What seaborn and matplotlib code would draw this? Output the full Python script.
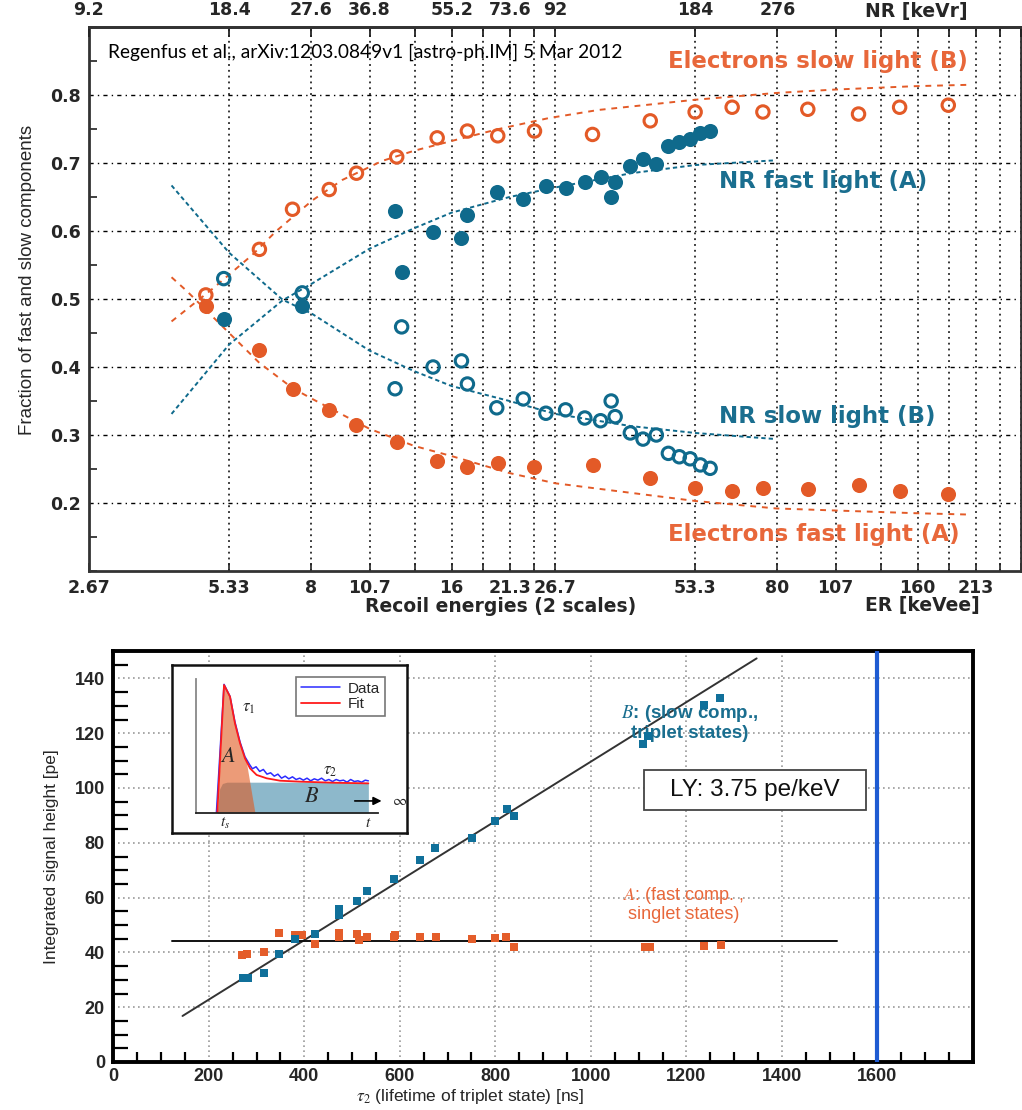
import matplotlib
matplotlib.use("Agg")
import matplotlib.pyplot as plt
import seaborn as sns
import pandas as pd
from matplotlib.ticker import FixedLocator, NullLocator, MultipleLocator
from matplotlib.patches import Rectangle

# ---------------- colours ----------------
ORANGE = "#E35A27"
BLUE = "#0F6A8C"
ORANGE_TXT = "#E8673A"
BLUE_TXT = "#1A6E8F"
SQ_BLUE = "#10709A"
SQ_ORANGE = "#E45D2A"

# ---------------- top panel data (x = ER in keVee) ----------------
e_er = [4.75, 6.19, 7.29, 8.74, 10.0, 12.2, 14.9, 17.3, 20.1, 24.1, 32.1, 42.7,
        53.3, 64.0, 74.5, 93.0, 119.5, 146.4, 186.2]
e_slow_y = [0.506, 0.573, 0.632, 0.661, 0.685, 0.709, 0.737, 0.747, 0.740, 0.747,
            0.742, 0.762, 0.775, 0.782, 0.775, 0.779, 0.772, 0.782, 0.785]
e_fast_y = [0.490, 0.425, 0.368, 0.337, 0.315, 0.290, 0.262, 0.253, 0.259, 0.253,
            0.256, 0.237, 0.222, 0.217, 0.222, 0.220, 0.226, 0.217, 0.213]

nr_er = [5.19, 7.65, 12.5, 12.1, 14.6, 16.8, 17.3, 20.0, 22.8, 25.5, 28.1, 30.9,
         33.4, 35.2, 35.9, 38.7, 41.2, 44.0, 46.7, 49.3, 52.0, 54.7, 57.4]
nr_slow_y = [0.530, 0.509, 0.459, 0.368, 0.400, 0.409, 0.375, 0.340, 0.353, 0.332,
             0.337, 0.325, 0.321, 0.350, 0.327, 0.303, 0.294, 0.300, 0.273, 0.268,
             0.265, 0.256, 0.251]
nr_fast_y = [0.471, 0.490, 0.539, 0.630, 0.598, 0.589, 0.623, 0.658, 0.647, 0.666,
             0.663, 0.672, 0.679, 0.650, 0.672, 0.695, 0.706, 0.698, 0.725, 0.731,
             0.735, 0.744, 0.747]

# fit curves
e_slow_fit_er = [4.01, 4.91, 5.98, 6.73, 8.04, 9.32, 11.35, 13.29, 16.34, 20.2,
                 25.84, 33.05, 53.3, 79.5, 106.3, 158.3, 206.6]
e_slow_fit_y = [0.467, 0.515, 0.565, 0.600, 0.645, 0.675, 0.703, 0.718, 0.734,
                0.750, 0.766, 0.778, 0.793, 0.803, 0.808, 0.813, 0.815]
e_fast_fit_er = [4.01, 4.32, 5.33, 6.19, 7.29, 8.04, 10.67, 13.29, 16.0, 21.3,
                 26.7, 53.3, 79.5, 106.3, 158.3, 206.6]
e_fast_fit_y = [0.532, 0.512, 0.450, 0.406, 0.369, 0.353, 0.309, 0.284, 0.269,
                0.244, 0.229, 0.203, 0.192, 0.189, 0.185, 0.183]
nr_fit_er = [4.01, 5.33, 6.94, 8.04, 10.67, 13.29, 16.0, 21.3, 26.7, 38.9, 53.3, 79.5]
nr_fast_fit_y = [0.331, 0.433, 0.498, 0.523, 0.574, 0.604, 0.627, 0.650, 0.664,
                 0.685, 0.697, 0.704]
nr_slow_fit_y = [0.667, 0.568, 0.499, 0.478, 0.424, 0.394, 0.372, 0.350, 0.331,
                 0.313, 0.303, 0.294]

er_range = (2.667, 266.7)
er_ticks = [2.667, 5.333, 8.0, 10.67, 13.33, 16.0, 18.67, 21.33, 24.0, 26.67,
            53.33, 80.0, 106.7, 133.3, 160.0, 186.7, 213.3, 240.0, 266.7]
er_labels = ["2.67", "5.33", "8", "10.7", "", "16", "", "21.3", "", "26.7",
             "53.3", "80", "107", "", "160", "", "213", "", ""]
nr_labels = ["9.2", "18.4", "27.6", "36.8", "", "55.2", "", "73.6", "", "92",
             "184", "276", "", "", "", "", "", "", ""]
frac_ticks = [0.2, 0.3, 0.4, 0.5, 0.6, 0.7, 0.8]
frac_labels = ["0.2", "0.3", "0.4", "0.5", "0.6", "0.7", "0.8"]

# ---------------- bottom panel data ----------------
b_ns = [272, 282, 315, 346, 381, 423, 472, 472, 510, 531, 588, 642, 674, 751,
        799, 824, 839, 1109, 1120, 1237, 1271]
b_pe = [30.6, 30.6, 32.4, 39.4, 44.9, 46.8, 55.8, 53.8, 58.6, 62.5, 66.8, 73.6,
        78.1, 81.8, 87.9, 92.4, 89.7, 116.2, 118.9, 130.3, 133.0]
a_ns = [270, 281, 315, 346, 381, 395, 423, 472, 472, 510, 514, 531, 588, 589,
        643, 676, 751, 799, 823, 839, 1113, 1123, 1236, 1272]
a_pe = [39.0, 39.4, 40.1, 47.0, 46.4, 46.4, 43.1, 47.0, 45.5, 46.8, 44.4, 45.6,
        45.6, 46.4, 45.6, 45.6, 44.9, 45.2, 45.6, 41.9, 42.0, 42.0, 42.4, 42.8]
b_fit_ns = [145, 1347]
b_fit_pe = [16.8, 147.3]
a_fit_ns = [123, 1515]
a_fit_pe = [44.3, 44.3]
threshold_ns = 1600

# ---------------- inset (schematic pulse) data ----------------
pulse_fit_x = [1.17, 1.54, 1.87, 2.14, 2.42, 2.69, 2.97, 3.33, 3.88, 4.62, 5.71, 7.55, 9.47]
pulse_fit_y = [0.0, 0.955, 0.868, 0.669, 0.520, 0.408, 0.333, 0.284, 0.259, 0.241,
               0.234, 0.226, 0.221]
pulse_data_x = [1.12, 1.54, 1.87, 2.14, 2.42, 2.69, 2.95,
                3.10, 3.30, 3.50, 3.70, 3.90, 4.10, 4.30, 4.50, 4.70, 4.90,
                5.10, 5.30, 5.50, 5.70, 5.90, 6.10, 6.30, 6.50, 6.70, 6.90,
                7.10, 7.30, 7.50, 7.70, 7.90, 8.10, 8.30, 8.50, 8.70, 8.90,
                9.10, 9.30, 9.47]
pulse_data_y = [0.0, 0.96, 0.87, 0.68, 0.53, 0.42, 0.36,
                0.33, 0.345, 0.31, 0.325, 0.29, 0.30, 0.275, 0.29, 0.26, 0.275,
                0.255, 0.27, 0.25, 0.26, 0.245, 0.26, 0.24, 0.255, 0.245, 0.26,
                0.24, 0.25, 0.235, 0.25, 0.24, 0.245, 0.23, 0.25, 0.235, 0.24,
                0.23, 0.245, 0.24]
b_region_x = [1.17, 1.30, 1.45, 1.70, 9.47]
b_region_y = [0.0, 0.18, 0.22, 0.23, 0.23]
a_region_x = [1.17, 1.54, 1.87, 2.14, 2.42, 2.69, 2.78, 3.24]
a_region_y = [0.0, 0.955, 0.868, 0.669, 0.520, 0.408, 0.37, 0.0]
inset_xticks = [1.59, 5.71, 9.45]
inset_xlabels = ["$t_s$", "", "$t$"]

# ---------------- style ----------------
sns.set_theme(style="white")
plt.rcParams["font.family"] = ["Liberation Sans", "DejaVu Sans"]
plt.rcParams["mathtext.fontset"] = "stix"
W, H = 1022, 1110
fig = plt.figure(figsize=(W / 100, H / 100), dpi=100)

def fx(px):
    return px / W

def fy(py):
    return 1 - py / H

# ======================= TOP PANEL =======================
ax = fig.add_axes([fx(89), fy(571), fx(1021 - 89), (571 - 27) / H])
ax.set_xscale("log")

dash_o = (0, (3, 3))
dash_b = (0, (2.2, 1.6))
sns.lineplot(x=e_slow_fit_er, y=e_slow_fit_y, ax=ax, color=ORANGE, lw=1.4,
             linestyle=dash_o, estimator=None, sort=False, zorder=2)
sns.lineplot(x=e_fast_fit_er, y=e_fast_fit_y, ax=ax, color=ORANGE, lw=1.4,
             linestyle=dash_o, estimator=None, sort=False, zorder=2)
sns.lineplot(x=nr_fit_er, y=nr_fast_fit_y, ax=ax, color=BLUE, lw=1.4,
             linestyle=dash_b, estimator=None, sort=False, zorder=2)
sns.lineplot(x=nr_fit_er, y=nr_slow_fit_y, ax=ax, color=BLUE, lw=1.4,
             linestyle=dash_b, estimator=None, sort=False, zorder=2)

sns.scatterplot(x=e_er, y=e_slow_y, ax=ax, marker="o", s=80, facecolor="none",
                edgecolor=ORANGE, linewidth=2.2, zorder=4)
sns.scatterplot(x=e_er, y=e_fast_y, ax=ax, marker="o", s=118, color=ORANGE,
                linewidth=0, zorder=4)
sns.scatterplot(x=nr_er, y=nr_slow_y, ax=ax, marker="o", s=80, facecolor="none",
                edgecolor=BLUE, linewidth=2.2, zorder=4)
sns.scatterplot(x=nr_er, y=nr_fast_y, ax=ax, marker="o", s=118, color=BLUE,
                linewidth=0, zorder=4)

ax.set_xlim(*er_range)
ax.set_ylim(0.1, 0.9)
ax.set_axisbelow(True)
bold13 = dict(fontsize=12.5, fontweight="bold", fontfamily="DejaVu Sans")
ax.set_xticks(er_ticks, labels=er_labels, **bold13)
ax.xaxis.set_minor_locator(NullLocator())
ax.set_yticks(frac_ticks, labels=frac_labels, **bold13)
ax.yaxis.set_minor_locator(MultipleLocator(0.05))
ax.tick_params(axis="x", which="major", direction="in", length=6, width=1.2,
               pad=6, color="#222")
ax.tick_params(axis="y", which="major", direction="in", length=8, width=1.5,
               pad=6, color="#333")
ax.tick_params(axis="y", which="minor", direction="in", length=6, width=1.3,
               color="#333", left=True)
ax.grid(True, axis="x", which="major", color="black", linestyle=(0, (1.2, 2.6)), lw=1.1)
ax.grid(True, axis="y", which="major", color="black", linestyle=(0, (3, 3, 1, 3)), lw=1.0)
for s in ax.spines.values():
    s.set_color("#333333")
    s.set_linewidth(2)

ax_t = ax.twiny()
ax_t.set_xscale("log")
ax_t.set_xlim(*er_range)
ax_t.set_xticks(er_ticks, labels=nr_labels, **bold13)
ax_t.xaxis.set_minor_locator(NullLocator())
ax_t.tick_params(axis="x", direction="in", length=7, width=1.3, pad=6, color="#222")
for k, s in ax_t.spines.items():
    s.set_visible(k == "top")
    s.set_color("#333333")
    s.set_linewidth(2)

ax.set_xlabel("Recoil energies (2 scales)", fontsize=13.5, fontweight="bold",
              fontfamily="DejaVu Sans")
ax.xaxis.set_label_coords((501 - 89) / 932, (571 - 597) / 544)
ax.set_ylabel("Fraction of fast and slow components", fontsize=13.5)
ax.yaxis.set_label_coords(-0.057, 0.535)
ax.text((922 - 89) / 932, (571 - 606) / 544, "ER [keVee]", transform=ax.transAxes,
        ha="center", va="center", **{**bold13, "fontsize": 13.5})
ax.text((916 - 89) / 932, (571 - 12) / 544, "NR [keVr]", transform=ax.transAxes,
        ha="center", va="center", **{**bold13, "fontsize": 13.5})

ax.text(0.0204, 0.954, "Regenfus et al., arXiv:1203.0849v1 [astro-ph.IM] 5 Mar 2012",
        transform=ax.transAxes, fontsize=13.8, fontfamily="Lato", color="black",
        ha="left", va="center", zorder=6)
lab_kw = dict(transform=ax.transAxes, ha="left", va="center", fontsize=16.5,
              fontweight="bold", fontfamily="DejaVu Sans", zorder=6)
ax.text(0.6217, 0.9357, "Electrons slow light (B)", color=ORANGE_TXT, **lab_kw)
ax.text(0.6763, 0.7151, "NR fast light (A)", color=BLUE_TXT, **lab_kw)
ax.text(0.6763, 0.2849, "NR slow light (B)", color=BLUE_TXT, **lab_kw)
ax.text(0.6217, 0.0662, "Electrons fast light (A)", color=ORANGE_TXT, **lab_kw)

# ======================= BOTTOM PANEL =======================
ax2 = fig.add_axes([fx(113.25), fy(1062), fx(973 - 113.25), (1062 - 651) / H])
sns.lineplot(x=b_fit_ns, y=b_fit_pe, ax=ax2, color="#333333", lw=1.4,
             estimator=None, sort=False, zorder=3)
sns.lineplot(x=a_fit_ns, y=a_fit_pe, ax=ax2, color="#111111", lw=1.4,
             estimator=None, sort=False, zorder=3)
sns.scatterplot(x=a_ns, y=a_pe, ax=ax2, marker="s", s=38, color=SQ_ORANGE,
                linewidth=0, zorder=4)
sns.scatterplot(x=b_ns, y=b_pe, ax=ax2, marker="s", s=38, color=SQ_BLUE,
                linewidth=0, zorder=4)
ax2.axvline(threshold_ns, color="#1E5BD2", lw=3, zorder=5)

ax2.set_xlim(0, 1800)
ax2.set_ylim(0, 150)
ax2.set_axisbelow(True)
boldL = dict(fontsize=13, fontweight="bold")
ax2.set_xticks(list(range(0, 1601, 200)), labels=[str(v) for v in range(0, 1601, 200)], **boldL)
ax2.set_yticks(list(range(0, 141, 20)), labels=[str(v) for v in range(0, 141, 20)], **boldL)
ax2.xaxis.set_minor_locator(MultipleLocator(50))
ax2.yaxis.set_minor_locator(MultipleLocator(5))
ax2.tick_params(axis="x", which="major", direction="in", length=12, width=2, pad=4,
                color="black", top=False)
ax2.tick_params(axis="x", which="minor", direction="in", length=7, width=1.6,
                color="black", bottom=True)
ax2.tick_params(axis="y", which="major", direction="in", length=20, width=2, pad=6,
                color="black")
ax2.tick_params(axis="y", which="minor", direction="in", length=11, width=1.6,
                color="black", left=True)
ax2.grid(True, which="major", color="#9a9a9a", linestyle=(0, (1, 2)), lw=1.2)
for s in ax2.spines.values():
    s.set_color("black")
    s.set_linewidth(2.8)
ax2.set_ylabel("Integrated signal height [pe]", fontsize=12.5)
ax2.yaxis.set_label_coords(-0.063, 0.5)
ax2.set_xlabel(r"$\tau_2$ (lifetime of triplet state) [ns]", fontsize=12.5)
ax2.xaxis.set_label_coords(0.415, -0.062)

ax2.text(1207, 124, "$B$: (slow comp.,\ntriplet states)", color=BLUE_TXT,
         fontsize=13.5, fontweight="bold", ha="center", va="center", linespacing=1.05)
ax2.text(1194, 57.8, "$A$: (fast comp. ,\nsinglet states)", color=ORANGE_TXT,
         fontsize=13, ha="center", va="center", linespacing=1.0)
ly_box = Rectangle((1110.7, 92.1), 465.8, 14.3, facecolor="white",
                   edgecolor="#444444", lw=1.3, zorder=6)
ax2.add_patch(ly_box)
ax2.text(1343, 99.3, "LY: 3.75 pe/keV", fontsize=17.5, ha="center", va="center",
         color="#111111", zorder=7)

# ======================= INSET =======================
axf = fig.add_axes([fx(172), fy(833), fx(407 - 172), (833 - 665) / H])
axf.set_xticks([])
axf.set_yticks([])
axf.set_facecolor("white")
for s in axf.spines.values():
    s.set_color("#111111")
    s.set_linewidth(1.8)

axi = fig.add_axes([fx(196), fy(813), fx(378 - 196), (813 - 679) / H])
axi.set_facecolor("none")
axi.fill_between(b_region_x, b_region_y, color="#8DB8CB", lw=0)
axi.fill_between(a_region_x, a_region_y, color="#E0591F", alpha=0.6, lw=0)
sns.lineplot(x=pulse_data_x, y=pulse_data_y, ax=axi, color="#2B2BFF", lw=1.1,
             estimator=None, sort=False, label="Data")
sns.lineplot(x=pulse_fit_x, y=pulse_fit_y, ax=axi, color="#FF1A1A", lw=1.3,
             estimator=None, sort=False, label="Fit")
axi.set_xlim(0, 10)
axi.set_ylim(0, 1.0)
axi.set_xticks(inset_xticks, labels=inset_xlabels, fontsize=11)
axi.set_yticks([0.455, 1.0], labels=["", ""])
axi.tick_params(axis="x", direction="in", length=5, width=1.2, pad=2)
axi.tick_params(axis="y", direction="in", length=5, width=1.2)
axi.spines["top"].set_visible(False)
axi.spines["right"].set_visible(False)
axi.spines["left"].set_color("#888888")
axi.spines["left"].set_linewidth(1.3)
axi.spines["bottom"].set_color("#222222")
axi.spines["bottom"].set_linewidth(1.3)
leg = axi.legend(loc="upper right", bbox_to_anchor=(1.08, 1.07), frameon=True,
                 fancybox=False, edgecolor="#555555", fontsize=11, handlelength=2.6,
                 borderpad=0.3, labelspacing=0.1, handletextpad=0.5)
leg.get_frame().set_linewidth(1.2)
axi.text(2.5, 0.78, r"$\tau_1$", fontsize=12, ha="left", va="center")
axi.text(7.36, 0.31, r"$\tau_2$", fontsize=12, ha="center", va="center")
axi.text(1.76, 0.42, "$A$", fontsize=16, ha="center", va="center")
axi.text(6.37, 0.12, "$B$", fontsize=16, ha="center", va="center")
axi.annotate("", xy=(10.35, 0.09), xytext=(8.57, 0.09),
             arrowprops=dict(arrowstyle="-|>", color="black", lw=1.2),
             annotation_clip=False)
axi.text(10.75, 0.09, r"$\infty$", fontsize=11, ha="left", va="center", clip_on=False)

fig.savefig("out.png", dpi=100)
